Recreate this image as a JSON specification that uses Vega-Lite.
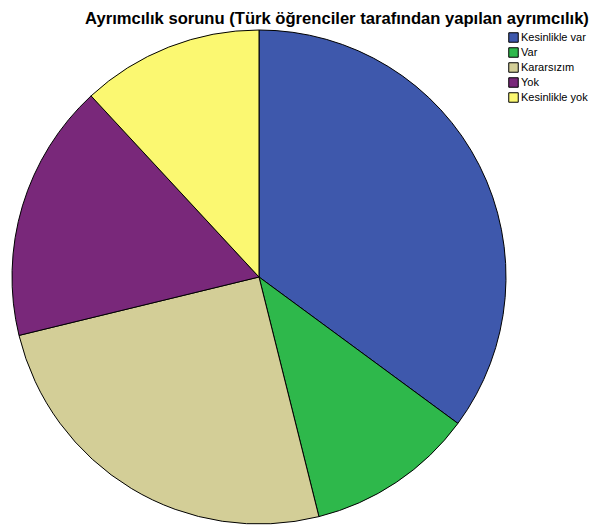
{
  "$schema": "https://vega.github.io/schema/vega-lite/v6.json",
  "autosize": "none",
  "width": 518,
  "height": 494,
  "padding": {"top": 30, "left": 0, "right": 77, "bottom": 2},
  "background": "white",
  "title": {
    "text": "Ayrımcılık sorunu (Türk öğrenciler tarafından yapılan ayrımcılık)",
    "anchor": "middle",
    "frame": "group",
    "dx": 78,
    "offset": 0,
    "font": "Liberation Sans",
    "fontSize": 16.6,
    "fontWeight": "bold",
    "color": "#000000"
  },
  "data": {
    "values": [
      {"kategori": "Kesinlikle var", "yuzde": 35.1, "sira": 1},
      {"kategori": "Var", "yuzde": 11.0, "sira": 2},
      {"kategori": "Kararsızım", "yuzde": 25.1, "sira": 3},
      {"kategori": "Yok", "yuzde": 16.9, "sira": 4},
      {"kategori": "Kesinlikle yok", "yuzde": 11.9, "sira": 5}
    ]
  },
  "mark": {"type": "arc", "outerRadius": 247, "stroke": "#000000", "strokeWidth": 1},
  "encoding": {
    "theta": {"field": "yuzde", "type": "quantitative", "stack": true},
    "order": {"field": "sira", "type": "quantitative", "sort": "ascending"},
    "color": {
      "field": "kategori",
      "type": "nominal",
      "sort": ["Kesinlikle var", "Var", "Kararsızım", "Yok", "Kesinlikle yok"],
      "scale": {
        "domain": ["Kesinlikle var", "Var", "Kararsızım", "Yok", "Kesinlikle yok"],
        "range": ["#3E58AC", "#2EB84B", "#D3CE97", "#79287A", "#FBF871"]
      },
      "legend": {
        "title": null,
        "orient": "none",
        "legendX": 508,
        "legendY": 2,
        "symbolType": "square",
        "symbolSize": 90,
        "symbolStrokeColor": "#000000",
        "symbolStrokeWidth": 1,
        "symbolOpacity": 1,
        "labelFont": "Liberation Sans",
        "labelFontSize": 11,
        "labelColor": "#000000",
        "labelOffset": 2,
        "rowPadding": 0,
        "padding": 0
      }
    }
  },
  "config": {"view": {"stroke": null}}
}
